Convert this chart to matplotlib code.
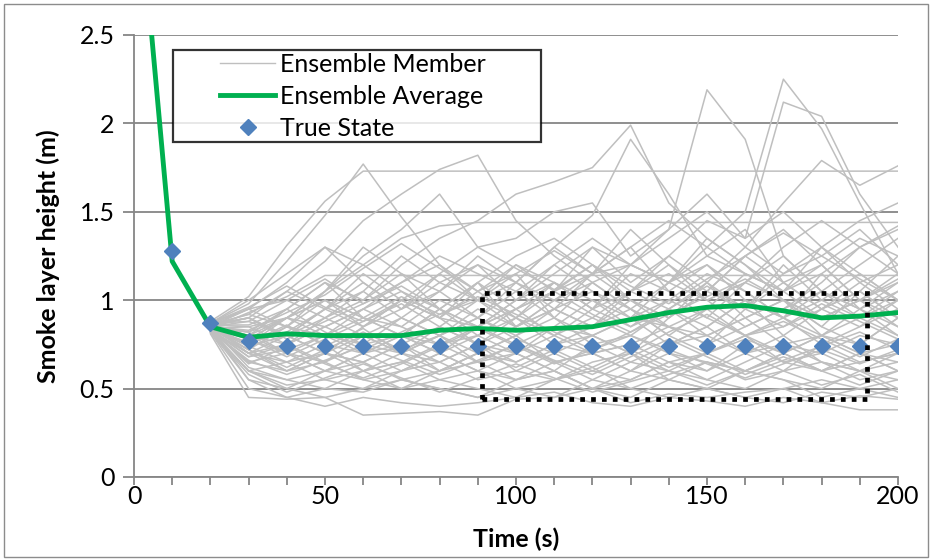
import matplotlib
matplotlib.use("Agg")
import numpy as np
import matplotlib.pyplot as plt
from matplotlib.patches import Rectangle
from matplotlib.ticker import MultipleLocator, FuncFormatter
from matplotlib.lines import Line2D
from matplotlib.legend_handler import HandlerLine2D

plt.rcParams["font.family"] = ["Lato", "DejaVu Sans"]

# --- data ---
time = [0, 10, 20, 30, 40, 50, 60, 70, 80, 90, 100,
        110, 120, 130, 140, 150, 160, 170, 180, 190, 200]

ensemble_average = [3.6, 1.22, 0.85, 0.79, 0.81, 0.80, 0.80, 0.80, 0.83, 0.84, 0.83,
                    0.84, 0.85, 0.89, 0.93, 0.96, 0.97, 0.94, 0.90, 0.91, 0.93]

true_time = [10, 20, 30, 40, 50, 60, 70, 80, 90, 100,
             110, 120, 130, 140, 150, 160, 170, 180, 190, 200]
true_state = [1.28, 0.87, 0.77, 0.74, 0.74, 0.74, 0.74, 0.74, 0.74, 0.74,
              0.74, 0.74, 0.74, 0.74, 0.74, 0.74, 0.74, 0.74, 0.74, 0.74]

# ensemble members, t = 20 ... 200 s
member_time = time[2:]
members = [
    [.88, 1.02, 1.31, 1.56, 1.73, 1.73, 1.73, 1.73, 1.73, 1.73, 1.73, 1.73, 1.73, 1.73, 1.73, 1.73, 1.73, 1.73, 1.73],
    [.87, .98, 1.22, 1.48, 1.77, 1.47, 1.2, 1.05, .9, 1.1, 1.0, .85, .95, .8, .9, 1.0, .85, .75, .9],
    [.86, .92, 1.05, 1.22, 1.45, 1.6, 1.74, 1.82, 1.45, 1.25, 1.1, .95, 1.1, 1.2, 1.05, .9, 1.0, 1.15, 1.0],
    [.85, .95, 1.1, 1.3, 1.2, 1.35, 1.42, 1.44, 1.44, 1.44, 1.44, 1.44, 1.44, 1.44, 1.44, 1.44, 1.44, 1.44, 1.44],
    [.84, .93, 1.02, 1.14, 1.14, 1.14, 1.14, 1.14, 1.14, 1.14, 1.14, 1.14, 1.14, 1.14, 1.14, 1.14, 1.14, 1.14, 1.14],
    [.86, .8, .95, 1.1, 1.0, 1.2, 1.35, 1.45, 1.6, 1.67, 1.75, 1.99, 1.55, 1.35, 1.2, 1.05, 1.3, 1.15, 1.0],
    [.85, .75, .9, 1.05, 1.3, 1.15, 1.05, 1.2, 1.1, 1.3, 1.48, 1.91, 1.6, 1.25, 1.4, 1.1, .95, 1.05, .9],
    [.83, .7, .8, .95, .85, 1.0, .9, 1.1, .95, 1.05, 1.15, 1.2, 1.4, 2.19, 1.91, 1.25, 1.05, .9, 1.0],
    [.84, .72, .85, .8, .95, 1.05, .9, .85, 1.0, 1.1, .95, 1.2, 1.1, 1.3, 1.5, 2.25, 1.97, 1.55, 1.15],
    [.86, .9, .8, .95, 1.1, .95, 1.15, 1.0, 1.2, 1.05, 1.3, 1.1, 1.25, 1.45, 1.35, 2.12, 2.04, 1.6, 1.3],
    [.85, .78, .9, 1.0, .85, .95, 1.1, 1.2, 1.0, 1.15, 1.3, 1.2, 1.35, 1.5, 1.3, 1.55, 1.79, 1.65, 1.76],
    [.87, .95, .85, 1.05, 1.25, 1.4, 1.6, 1.3, 1.35, 1.5, 1.55, 1.25, 1.4, 1.6, 1.35, 1.5, 1.3, 1.45, 1.55],
    [.86, .9, 1.05, .95, 1.15, 1.0, .9, 1.05, 1.2, 1.1, .95, 1.05, 1.25, 1.1, .95, 1.15, 1.3, 1.1, 1.2],
    [.84, .82, .95, 1.1, .9, .8, .95, 1.1, .85, .95, 1.15, 1.3, 1.05, .9, 1.1, 1.25, 1.05, .95, 1.1],
    [.85, .8, .75, .9, 1.0, 1.15, .95, .85, 1.0, 1.2, 1.05, .9, 1.1, 1.35, 1.2, 1.0, .85, 1.05, 1.25],
    [.86, .85, .9, .8, .75, .9, 1.05, 1.25, 1.1, .95, .85, 1.0, .9, 1.1, 1.3, 1.15, 1.25, 1.4, 1.2],
    [.83, .76, .82, .95, 1.05, .9, .8, .9, 1.05, .9, 1.1, .95, .8, .95, 1.15, 1.05, .9, 1.0, .85],
    [.85, .78, .7, .8, .9, .85, 1.0, .9, .8, .95, .85, 1.05, 1.2, 1.0, .85, .95, 1.1, 1.3, 1.15],
    [.87, .88, .8, .7, .85, 1.0, .9, .75, .9, 1.05, 1.2, 1.0, .85, .75, .95, 1.1, 1.2, 1.0, .9],
    [.84, .74, .8, .9, .8, .7, .85, 1.0, 1.15, .9, .8, .7, .9, 1.05, 1.25, 1.1, .95, .85, 1.0],
    [.85, .82, .9, .85, .95, 1.1, 1.2, 1.0, .9, .8, .95, 1.15, 1.05, 1.2, 1.0, .9, 1.05, 1.2, 1.35],
    [.86, .7, .75, .85, .75, .8, .7, .85, .95, .8, .9, 1.05, .95, .85, 1.0, .8, .95, 1.1, .95],
    [.84, .8, .7, .65, .8, .9, .8, .95, .85, 1.0, .9, .8, .95, 1.1, .9, 1.0, .8, .75, .9],
    [.85, .75, .85, .75, .7, .8, .95, .8, .7, .85, 1.0, .9, .75, .85, 1.0, .9, 1.15, .95, .8],
    [.83, .65, .6, .7, .65, .75, .6, .7, .8, .65, .7, .6, .75, .85, .7, .6, .75, .65, .7],
    [.82, .6, .55, .6, .7, .6, .65, .55, .6, .7, .6, .55, .65, .6, .7, .8, .65, .6, .55],
    [.84, .55, .5, .6, .55, .5, .6, .65, .55, .6, .5, .6, .55, .65, .6, .55, .5, .6, .65],
    [.83, .7, .65, .55, .6, .7, .65, .75, .6, .55, .65, .7, .6, .55, .65, .75, .7, .6, .5],
    [.82, .6, .5, .45, .5, .55, .5, .45, .55, .6, .5, .45, .55, .5, .45, .5, .55, .5, .45],
    [.81, .45, .44, .45, .35, .36, .37, .35, .44, .45, .5, .42, .47, .45, .48, .5, .42, .38, .38],
    [.82, .5, .45, .5, .48, .55, .5, .45, .5, .45, .55, .5, .45, .5, .45, .42, .48, .45, .5],
    [.83, .65, .7, .6, .65, .55, .6, .7, .65, .75, .7, .6, .7, .65, .6, .7, .6, .65, .7],
    [.84, .72, .6, .65, .75, .7, .8, .65, .7, .6, .75, .8, .7, .6, .75, .65, .7, .8, .75],
    [.85, .62, .55, .5, .6, .65, .55, .5, .45, .55, .6, .7, .55, .5, .6, .55, .45, .5, .55],
    [.83, .6, .65, .75, .6, .5, .55, .6, .7, .6, .5, .55, .65, .55, .5, .6, .65, .55, .6],
    [.82, .55, .45, .4, .45, .42, .4, .42, .45, .48, .42, .4, .45, .43, .4, .45, .42, .46, .44],
    [.84, .68, .75, .65, .55, .6, .7, .6, .55, .65, .7, .75, .65, .7, .8, .65, .6, .7, .65],
    [.85, .7, .6, .7, .8, .7, .6, .7, .8, .9, .75, .65, .6, .7, .6, .7, .8, .7, .6],
    [.86, .95, 1.0, .9, 1.05, 1.25, 1.1, 1.0, .85, 1.0, 1.15, 1.0, .9, 1.05, .95, 1.2, 1.0, .9, 1.05],
    [.84, .85, .75, .85, .95, .85, .75, .8, .95, 1.1, .95, .85, 1.0, .9, .8, .85, .95, 1.05, .9],
    [.87, 1.0, 1.15, 1.3, 1.1, .95, 1.05, .9, 1.1, 1.3, 1.15, 1.4, 1.2, 1.05, 1.25, 1.4, 1.2, 1.0, 1.15],
    [.85, .9, .8, .7, .65, .75, .85, .75, .65, .75, .85, .95, .8, .7, .8, .9, .75, .85, .95],
    [.83, .68, .72, .8, .7, .75, .65, .75, .7, .8, .7, .75, .85, .8, .7, .75, .8, .7, .75],
    [.86, .92, .85, 1.0, .9, .8, .7, .8, .9, .75, .8, .9, 1.0, 1.15, 1.05, .9, .8, .95, 1.05],
    [.85, .78, .9, 1.05, 1.2, 1.05, .95, 1.1, 1.25, 1.35, 1.2, 1.05, 1.15, 1.0, 1.1, 1.3, 1.45, 1.3, 1.4],
    [.84, .74, .65, .7, .6, .65, .75, .85, .75, .65, .55, .65, .75, .8, .9, .75, .65, .6, .7],
    [.86, .82, .7, .6, .7, .8, .75, .65, .75, .85, .8, .9, .85, .95, .8, .7, .8, .9, .8],
    [.83, .6, .52, .55, .5, .6, .7, .6, .5, .55, .62, .5, .58, .65, .55, .6, .52, .58, .48],
    [.85, .88, 1.0, 1.12, .98, 1.1, 1.25, 1.15, 1.05, 1.2, 1.35, 1.2, 1.1, 1.25, 1.15, 1.05, 1.2, 1.35, 1.25],
    [.84, .78, .68, .78, .88, .98, .85, .75, .85, .95, 1.05, .95, .85, .75, .85, .95, 1.05, .95, .85],
    [.86, .86, .95, .82, .72, .82, .92, 1.02, .92, .82, .72, .82, .95, 1.08, .95, .85, .98, .88, .78],
    [.83, .66, .58, .66, .74, .66, .58, .66, .75, .66, .58, .68, .78, .68, .58, .66, .74, .82, .72],
    [.85, .83, .93, 1.03, 1.18, 1.32, 1.18, 1.05, 1.15, 1.28, 1.15, 1.3, 1.45, 1.3, 1.15, 1.05, 1.15, 1.3, 1.42],
    [.82, .58, .48, .56, .64, .56, .48, .56, .64, .56, .48, .54, .6, .52, .6, .68, .6, .52, .6],
    [.86, .9, .78, .88, .98, 1.08, .95, .85, .95, 1.05, .92, .82, .92, 1.02, 1.12, 1.0, .9, 1.0, 1.12],
    [.84, .76, .86, .74, .84, .7, .8, .9, .78, .7, .8, .7, .82, .92, .8, .88, .78, .68, .78],
    [.85, .72, .62, .72, .82, .72, .8, .7, .62, .72, .62, .72, .62, .7, .78, .7, .6, .7, .6],
    [.87, .96, 1.08, .96, .88, 1.0, 1.15, 1.3, 1.18, 1.06, 1.2, 1.08, .98, 1.12, 1.25, 1.38, 1.25, 1.12, 1.0],
    [.83, .64, .74, .64, .56, .64, .74, .84, .74, .64, .72, .8, .72, .64, .56, .64, .72, .64, .72],
    [.86, .8, .9, 1.0, .9, 1.02, .92, 1.0, 1.1, 1.0, 1.1, 1.2, 1.1, 1.0, 1.1, 1.0, .9, 1.0, 1.1],
]


class ShortHandler(HandlerLine2D):
    # draw the legend key only in the right part of the handle box
    def create_artists(self, legend, orig_handle, xdescent, ydescent,
                       width, height, fontsize, trans):
        artists = super().create_artists(legend, orig_handle, xdescent, ydescent,
                                         width, height, fontsize, trans)
        right = -xdescent + width
        for a in artists:
            xd = np.asarray(a.get_xdata(), dtype=float)
            a.set_xdata(right - (right - xd) * 0.55)
        return artists


# --- figure ---
fig = plt.figure(figsize=(9.32, 5.59), dpi=100)
ax = fig.add_axes([134 / 932, 1 - 477 / 559, 764 / 932, 442 / 559])

# outer chart border
fig.patches.append(Rectangle((4 / 932, 2 / 559), 924 / 932, 553 / 559,
                             transform=fig.transFigure, fill=False,
                             edgecolor="#8c8c8c", linewidth=1.0))

for m in members:
    ax.plot(member_time, m, color="#bfbfbf", linewidth=1.1, zorder=2)

ax.plot(time, ensemble_average, color="#00b050", linewidth=3.5, zorder=4,
        solid_joinstyle="round")
ax.plot(true_time, true_state, linestyle="none", marker="D", markersize=8.5,
        color="#4f81bd", zorder=5)

# dotted box highlighting the later period
ax.add_patch(Rectangle((91, 0.44), 101, 0.6, fill=False, edgecolor="black",
                       linewidth=3.4, linestyle=(0, (1, 1.3)), zorder=6))

ax.set_xlim(0, 200)
ax.set_ylim(0, 2.5)
ax.xaxis.set_major_locator(MultipleLocator(50))
ax.xaxis.set_minor_locator(MultipleLocator(10))
ax.yaxis.set_major_locator(MultipleLocator(0.5))
ax.yaxis.set_major_formatter(FuncFormatter(lambda v, p: f"{v:g}"))

ax.grid(axis="y", color="#868686", linewidth=1.3, zorder=0)
ax.set_axisbelow(True)
for s in ["top", "right"]:
    ax.spines[s].set_visible(False)
for s in ["left", "bottom"]:
    ax.spines[s].set_color("#868686")
    ax.spines[s].set_linewidth(1.3)

ax.tick_params(axis="both", which="both", direction="out", color="#868686",
               width=1.3, labelsize=18)
ax.tick_params(axis="x", which="both", length=6, pad=0)
ax.tick_params(axis="y", length=8, pad=6)

ax.set_xlabel("Time (s)", fontsize=18, fontweight="bold", labelpad=14)
ax.set_ylabel("Smoke layer height (m)", fontsize=18, fontweight="bold", labelpad=14)

handles = [
    Line2D([], [], color="#bfbfbf", linewidth=1.0),
    Line2D([], [], color="#00b050", linewidth=3.5),
    Line2D([], [], linestyle="none", marker="D", markersize=8.5, color="#4f81bd"),
]
leg = ax.legend(handles, ["Ensemble Member", "Ensemble Average", "True State"],
                loc="upper left", bbox_to_anchor=(0.051, 0.966, 0.482, 0),
                mode="expand", fontsize=18, frameon=True, fancybox=False,
                borderaxespad=0, handlelength=4.0, handletextpad=0.2,
                labelspacing=0.36, borderpad=0.1,
                handler_map={Line2D: ShortHandler()})
leg.get_frame().set_edgecolor("black")
leg.get_frame().set_linewidth(1.6)
leg.set_zorder(10)

fig.savefig("out.png", dpi=100)
